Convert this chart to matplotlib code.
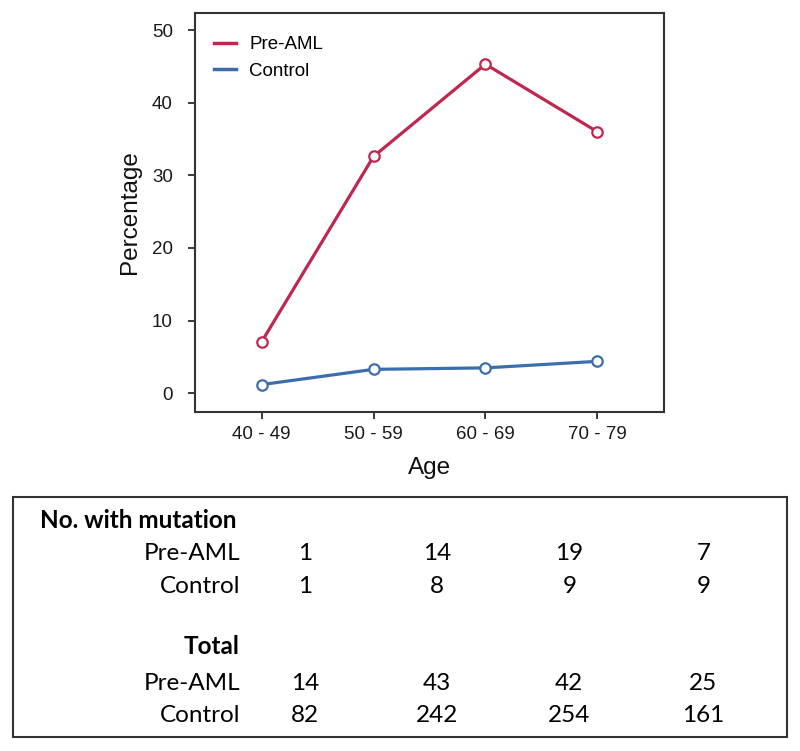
import matplotlib
matplotlib.use("Agg")
import matplotlib.pyplot as plt
from matplotlib.patches import Rectangle

# ---- data ----
age_groups = ["40 - 49", "50 - 59", "60 - 69", "70 - 79"]
pre_aml_pct = [7.1, 32.6, 45.3, 36.0]
control_pct = [1.2, 3.3, 3.5, 4.4]
y_ticks = [0, 10, 20, 30, 40, 50]

row_labels = ["Pre-AML", "Control"]
mut_pre_aml = [1, 14, 19, 7]
mut_control = [1, 8, 9, 9]
tot_pre_aml = [14, 43, 42, 25]
tot_control = [82, 242, 254, 161]

RED = "#C0274F"
BLUE = "#3C6EAE"
W, H = 800, 751

fig = plt.figure(figsize=(W / 100, H / 100), dpi=100)
plot_font = "Liberation Sans"
table_font = "Lato"

# ---- line chart ----
ax = fig.add_axes([195 / W, 1 - 411.7 / H, (664 - 195) / W, (411.7 - 13.3) / H])
x = list(range(1, len(age_groups) + 1))
ax.plot(x, pre_aml_pct, color=RED, lw=2.3, marker="o", ms=7.5,
        mfc="white", mec=RED, mew=1.6, label="Pre-AML", zorder=3)
ax.plot(x, control_pct, color=BLUE, lw=2.3, marker="o", ms=7.5,
        mfc="white", mec=BLUE, mew=1.6, label="Control", zorder=3)
ax.set_xlim(0.404, 4.596)
ax.set_ylim(-2.53, 52.3)
ax.set_xticks(x)
ax.set_xticklabels(age_groups, fontfamily=plot_font, fontsize=13.5)
ax.set_yticks(y_ticks)
ax.set_yticklabels([str(v) for v in y_ticks], fontfamily=plot_font, fontsize=13.5)
ax.tick_params(axis="y", direction="out", length=5, width=1.2, pad=11, colors="#1a1a1a")
ax.tick_params(axis="x", direction="out", length=5, width=1.2, pad=5.5, colors="#1a1a1a")
for s in ax.spines.values():
    s.set_color("#333333")
    s.set_linewidth(1.5)
ax.set_ylabel("Percentage", fontfamily=plot_font, fontsize=17.5, labelpad=8)
ax.set_xlabel("Age", fontfamily=plot_font, fontsize=17.5, labelpad=10)
leg = ax.legend(loc="upper left", frameon=False, prop={"family": plot_font, "size": 13.5},
                handlelength=1.2, handletextpad=0.7, labelspacing=0.5,
                bbox_to_anchor=(0.0, 0.99), borderaxespad=0.6)
for h in leg.get_lines():
    h.set_marker("")
    h.set_linewidth(2.5)
ax.yaxis.label.set_color("#111111")
ax.xaxis.label.set_color("#111111")

# ---- table ----
tax = fig.add_axes([0, 0, 1, 1])
tax.set_xlim(0, W)
tax.set_ylim(H, 0)
tax.axis("off")
tax.add_patch(Rectangle((13.3, 496.7), 786.7 - 13.3, 736.7 - 496.7,
                        fill=False, ec="#333333", lw=1.5))
fs = 17.5
col_x = [305, 436.7, 569.3, 703.3]
label_right = 240
tax.text(40, 521, "No. with mutation", ha="left", va="center",
         fontfamily=table_font, fontweight="bold", fontsize=fs)
tax.text(label_right, 646.7, "Total", ha="right", va="center",
         fontfamily=table_font, fontweight="bold", fontsize=fs)
rows = [
    (553, row_labels[0], mut_pre_aml),
    (586.7, row_labels[1], mut_control),
    (683.3, row_labels[0], tot_pre_aml),
    (715, row_labels[1], tot_control),
]
for y, lab, vals in rows:
    tax.text(label_right, y, lab, ha="right", va="center",
             fontfamily=table_font, fontsize=fs)
    for cx, v in zip(col_x, vals):
        tax.text(cx, y, str(v), ha="center", va="center",
                 fontfamily=table_font, fontsize=fs)

fig.savefig("out.png", dpi=100)
